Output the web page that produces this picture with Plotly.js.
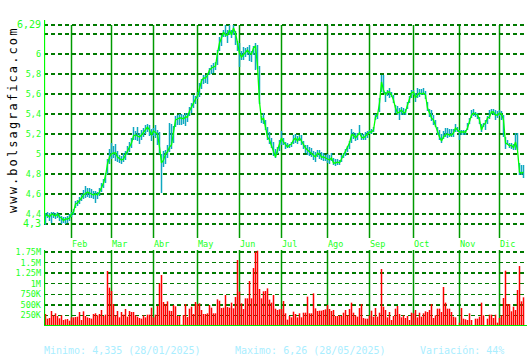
<!DOCTYPE html>
<html><head><meta charset="utf-8">
<script src="https://cdn.plot.ly/plotly-3.0.1.min.js"></script>
<style>html,body{margin:0;padding:0;background:#fff;}#chart{width:530px;height:360px;}</style>
</head><body><div id="chart"></div>
<script>
// Daily closes (trading-day index 0..239)
const closes = [
4.38,4.39,4.37,4.40,4.39,4.38,4.40,4.37,4.36,4.335,
4.35,4.35,4.36,4.40,4.42,4.50,4.51,4.53,4.56,4.59,
4.61,4.62,4.61,4.60,4.59,4.60,4.59,4.62,4.66,4.71,
4.78,4.90,4.97,5.00,5.01,5.01,4.97,4.95,4.94,4.95,
4.99,5.04,5.07,5.11,5.18,5.19,5.18,5.17,5.19,5.22,
5.25,5.27,5.24,5.19,5.23,5.21,5.20,5.07,4.91,4.94,
5.00,5.02,5.07,5.09,5.20,5.34,5.35,5.36,5.36,5.35,
5.37,5.37,5.43,5.47,5.52,5.55,5.58,5.66,5.73,5.76,
5.76,5.79,5.84,5.86,5.87,5.88,6.01,6.11,6.16,6.22,
6.19,6.19,6.24,6.19,6.26,6.21,6.11,6.01,5.97,5.99,
6.01,6.04,6.01,6.00,6.06,6.08,5.88,5.52,5.34,5.36,
5.27,5.17,5.14,5.09,5.02,4.97,5.04,5.09,5.16,5.12,
5.09,5.07,5.09,5.10,5.14,5.16,5.13,5.16,5.13,5.09,
5.06,5.04,5.02,5.01,4.98,4.97,5.01,5.00,4.97,4.97,
4.96,4.95,4.94,4.96,4.91,4.91,4.92,4.91,4.95,4.99,
5.02,5.06,5.11,5.19,5.19,5.16,5.18,5.21,5.17,5.16,
5.18,5.20,5.22,5.22,5.24,5.37,5.39,5.51,5.72,5.64,
5.59,5.62,5.62,5.59,5.54,5.46,5.41,5.42,5.44,5.41,
5.42,5.49,5.54,5.61,5.62,5.56,5.59,5.61,5.60,5.61,
5.59,5.46,5.41,5.36,5.34,5.28,5.21,5.17,5.13,5.17,
5.19,5.20,5.19,5.19,5.21,5.26,5.24,5.22,5.22,5.22,
5.22,5.26,5.34,5.39,5.41,5.40,5.39,5.34,5.24,5.29,
5.31,5.36,5.37,5.42,5.42,5.39,5.39,5.41,5.40,5.34,
5.11,5.10,5.08,5.09,5.06,5.12,5.04,4.82,4.81,4.82
];
const highs = [
4.41,4.42,4.41,4.42,4.42,4.41,4.42,4.40,4.38,4.37,
4.37,4.38,4.40,4.42,4.45,4.53,4.54,4.57,4.60,4.64,
4.68,4.66,4.66,4.65,4.63,4.63,4.62,4.66,4.71,4.75,
4.81,4.95,5.05,5.11,5.08,5.10,5.03,4.99,4.98,5.01,
5.03,5.08,5.12,5.16,5.27,5.23,5.27,5.21,5.24,5.26,
5.29,5.30,5.29,5.25,5.26,5.29,5.24,5.22,5.00,5.03,
5.04,5.09,5.31,5.30,5.28,5.38,5.39,5.40,5.40,5.39,
5.41,5.41,5.47,5.51,5.59,5.58,5.62,5.71,5.75,5.79,
5.79,5.81,5.86,5.89,5.91,5.92,6.04,6.17,6.19,6.24,
6.29,6.24,6.29,6.24,6.29,6.23,6.13,6.11,6.03,6.07,
6.06,6.07,6.09,6.03,6.08,6.11,6.09,5.88,5.38,5.41,
5.34,5.27,5.22,5.16,5.12,5.05,5.07,5.14,5.23,5.16,
5.12,5.11,5.10,5.12,5.19,5.20,5.18,5.19,5.19,5.13,
5.09,5.09,5.07,5.06,5.03,5.02,5.04,5.04,5.02,5.01,
4.99,5.00,4.99,5.01,4.96,4.95,4.95,4.94,4.99,5.01,
5.05,5.08,5.13,5.25,5.22,5.21,5.21,5.29,5.21,5.20,
5.22,5.23,5.24,5.25,5.27,5.40,5.41,5.56,5.79,5.79,
5.62,5.64,5.66,5.62,5.59,5.49,5.48,5.46,5.47,5.46,
5.45,5.52,5.58,5.64,5.64,5.61,5.66,5.65,5.65,5.66,
5.63,5.52,5.45,5.44,5.39,5.34,5.27,5.24,5.20,5.23,
5.26,5.26,5.25,5.25,5.25,5.30,5.27,5.24,5.24,5.24,
5.24,5.31,5.36,5.44,5.45,5.42,5.41,5.37,5.30,5.31,
5.34,5.38,5.44,5.45,5.45,5.44,5.43,5.44,5.43,5.39,
5.17,5.14,5.11,5.11,5.10,5.21,5.21,4.91,4.89,4.89
];
const lows = [
4.29,4.36,4.33,4.31,4.36,4.35,4.36,4.33,4.30,4.31,
4.30,4.31,4.33,4.37,4.39,4.46,4.48,4.50,4.53,4.55,
4.56,4.57,4.56,4.56,4.55,4.51,4.55,4.58,4.62,4.66,
4.71,4.80,4.90,4.95,4.96,4.93,4.92,4.91,4.90,4.92,
4.94,4.99,5.02,5.06,5.14,5.14,5.13,5.10,5.14,5.17,
5.20,5.22,5.18,5.13,5.18,5.16,5.09,5.00,4.61,4.87,
4.90,4.96,5.02,5.05,5.11,5.27,5.29,5.29,5.29,5.30,
5.28,5.32,5.38,5.41,5.46,5.50,5.55,5.57,5.65,5.70,
5.71,5.70,5.79,5.80,5.81,5.84,5.89,6.03,6.08,6.17,
6.17,6.11,6.19,6.16,6.19,6.09,6.03,5.87,5.94,5.94,
5.97,5.99,5.93,5.92,5.99,5.84,5.85,5.50,5.31,5.30,
5.24,5.14,5.10,5.06,4.98,4.96,5.00,5.03,5.09,5.09,
5.05,5.06,5.06,5.07,5.10,5.11,5.10,5.13,5.09,5.05,
5.01,4.99,4.98,4.97,4.94,4.92,4.97,4.95,4.94,4.93,
4.93,4.91,4.90,4.93,4.89,4.88,4.89,4.89,4.92,4.96,
4.98,5.02,5.05,5.11,5.15,5.13,5.14,5.19,5.14,5.14,
5.14,5.16,5.20,5.20,5.22,5.34,5.35,5.42,5.62,5.61,
5.52,5.58,5.56,5.57,5.51,5.41,5.39,5.34,5.39,5.39,
5.39,5.45,5.51,5.56,5.59,5.52,5.56,5.57,5.59,5.59,
5.55,5.43,5.37,5.33,5.29,5.27,5.19,5.14,5.11,5.15,
5.17,5.16,5.17,5.17,5.17,5.22,5.22,5.14,5.19,5.19,
5.19,5.24,5.30,5.36,5.38,5.37,5.35,5.30,5.22,5.27,
5.24,5.30,5.35,5.40,5.39,5.34,5.36,5.38,5.34,5.17,
5.05,5.09,5.06,5.05,5.04,5.04,5.04,4.79,4.79,4.76
];
// Daily volume, thousands of shares
const volumes = [
284,173,189,355,252,300,236,181,252,142,
158,165,126,205,205,213,220,331,142,347,
236,205,189,173,284,300,252,284,378,236,
268,1300,906,827,520,252,355,205,331,268,
402,220,355,331,331,252,220,189,173,252,
205,268,268,433,205,268,473,1009,1206,567,
520,583,362,
355,496,465,236,236,30,260,520,213,410,
457,284,567,520,536,378,284,284,300,496,
433,300,300,630,599,425,433,733,449,433,
552,418,685,1560,812,536,402,654,654,1064,
654,1370,1757,1780,875,654,820,827,890,623,
552,733,410,378,394,402,591,300,150,236,
205,339,284,205,300,205,315,315,694,300,
300,772,418,355,362,362,378,394,496,402,
355,378,236,236,252,236,315,378,252,402,
552,315,252,220,425,520,189,173,173,252,
362,220,425,220,315,1347,457,378,205,331,
142,236,410,473,284,205,252,189,236,142,
315,300,378,205,315,220,300,347,331,378,
520,189,252,410,410,331,922,552,410,410,
331,220,205,16,79,425,173,158,142,300,
142,24,173,173,220,552,252,24,173,268,
268,189,268,79,189,252,662,1308,520,520,
347,457,378,851,1418,583,678
];
const monthNames = ['Feb','Mar','Abr','May','Jun','Jul','Ago','Sep','Oct','Nov','Dic'];
const monthStart = [13,33,54,76,97,118,141,162,184,207,227];
const priceTickVals = [6.29,6.2,6,5.8,5.6,5.4,5.2,5,4.8,4.6,4.4,4.3];
const priceTickText = ['<span style="font-size:10px">6,29</span>','','6','5,8','5,6','5,4','5,2','5','4,8','4,6','4,4','<span style="font-size:10px">4,3</span>'];
const volTickVals = [250,500,750,1000,1250,1500,1750];
const volTickText = ['250K','500K','750K','1M','1.25M','1.5M','1.75M'];
const footerTexts = ['Minimo: 4,335 (28/01/2025)','Maximo: 6,26 (28/05/2025)','Variación: 44%'];
const siteText = 'www.bolsagrafica.com';

const idx = closes.map((_, i) => i);
const hlX = [], hlY = [], volX = [], volY = [];
idx.forEach(i => {
  hlX.push(i, i, null); hlY.push(lows[i], highs[i], null);
  volX.push(i, i, null); volY.push(0, volumes[i], null);
});

const PRICE_MIN = 4.16, PRICE_MAX = 6.34, VOL_MAX = 1797;
const LIME = '#22ff22', GRID = '#007a00', VLINE = '#009a00';

const traces = [
  {type:'scatter', mode:'lines', x:hlX, y:hlY, xaxis:'x', yaxis:'y',
   line:{color:'#10a8c0', width:1.5}, hoverinfo:'skip', connectgaps:false},
  {type:'scatter', mode:'lines', x:idx, y:closes, xaxis:'x', yaxis:'y',
   line:{color:'#00ff00', width:1.3}, hoverinfo:'skip'},
  {type:'scatter', mode:'lines', x:volX, y:volY, xaxis:'x', yaxis:'y2',
   line:{color:'#ff0000', width:1.5}, hoverinfo:'skip', connectgaps:false}
];

const shapes = [];
monthStart.forEach(m => {
  shapes.push({type:'line', xref:'x', yref:'y', x0:m, x1:m, y0:PRICE_MIN, y1:6.29, line:{color:VLINE, width:1.5}, layer:'below'});
  shapes.push({type:'line', xref:'x', yref:'y2', x0:m, x1:m, y0:0, y1:VOL_MAX, line:{color:VLINE, width:1.5}, layer:'below'});
});
shapes.push({type:'line', xref:'x', yref:'y', x0:-0.5, x1:-0.5, y0:4.3, y1:PRICE_MAX, line:{color:'#00ff00', width:1.3}, layer:'above'});
shapes.push({type:'line', xref:'x', yref:'y2', x0:-0.5, x1:-0.5, y0:0, y1:VOL_MAX, line:{color:'#00cc00', width:1.3}, layer:'above'});
shapes.push({type:'line', xref:'paper', yref:'y2', x0:0, x1:1, y0:0, y1:0, line:{color:'#00ee00', width:2}, layer:'above'});

const annotations = [];
monthNames.forEach((name, k) => {
  annotations.push({text:name, xref:'x', x:monthStart[k], xanchor:'left', xshift:-2,
    yref:'paper', y:1-244/360, yanchor:'middle', showarrow:false,
    font:{family:'DejaVu Sans Mono', size:8.5, color:LIME}});
});
const footerX = [44, 235, 420];
footerTexts.forEach((t, k) => {
  annotations.push({text:t, xref:'paper', x:(footerX[k]-44)/483, xanchor:'left', xshift:-2,
    yref:'paper', y:1-350/360, yanchor:'middle', showarrow:false,
    font:{family:'DejaVu Sans Mono', size:10, color:'#aaeeff'}});
});
annotations.push({text:siteText, xref:'paper', x:(13-44)/483, xanchor:'center',
  yref:'paper', y:1-120/360, yanchor:'middle', textangle:-90, showarrow:false,
  font:{family:'DejaVu Sans Mono', size:12, color:'#000'}});

const axisCommon = {showline:false, zeroline:false, ticks:'', automargin:false, fixedrange:true,
  showgrid:true, gridcolor:GRID, griddash:'4px,3px', gridwidth:1.3,
  tickfont:{family:'DejaVu Sans Mono', size:8.5, color:LIME}, ticklabelstandoff:2};

const layout = {
  width:530, height:360, margin:{l:44, r:3, t:0, b:0, pad:0},
  paper_bgcolor:'#ffffff', plot_bgcolor:'#ffffff', showlegend:false,
  xaxis:{range:[-0.75, 240.75], showgrid:false, zeroline:false, showticklabels:false, showline:false, ticks:'', fixedrange:true},
  yaxis:Object.assign({}, axisCommon, {domain:[1-238/360, 1-20/360], range:[PRICE_MIN, PRICE_MAX], tickvals:priceTickVals, ticktext:priceTickText, anchor:'x'}),
  yaxis2:Object.assign({}, axisCommon, {domain:[1-326/360, 1-250/360], range:[0, VOL_MAX], tickvals:volTickVals, ticktext:volTickText, anchor:'x'}),
  shapes:shapes, annotations:annotations
};

Plotly.newPlot('chart', traces, layout, {staticPlot:true, displayModeBar:false}).then(() => {
  document.querySelectorAll('.annotation-text').forEach(el => {
    if (el.textContent === siteText) el.setAttribute('letter-spacing', '2.1px');
  });
});
</script>
</body></html>
